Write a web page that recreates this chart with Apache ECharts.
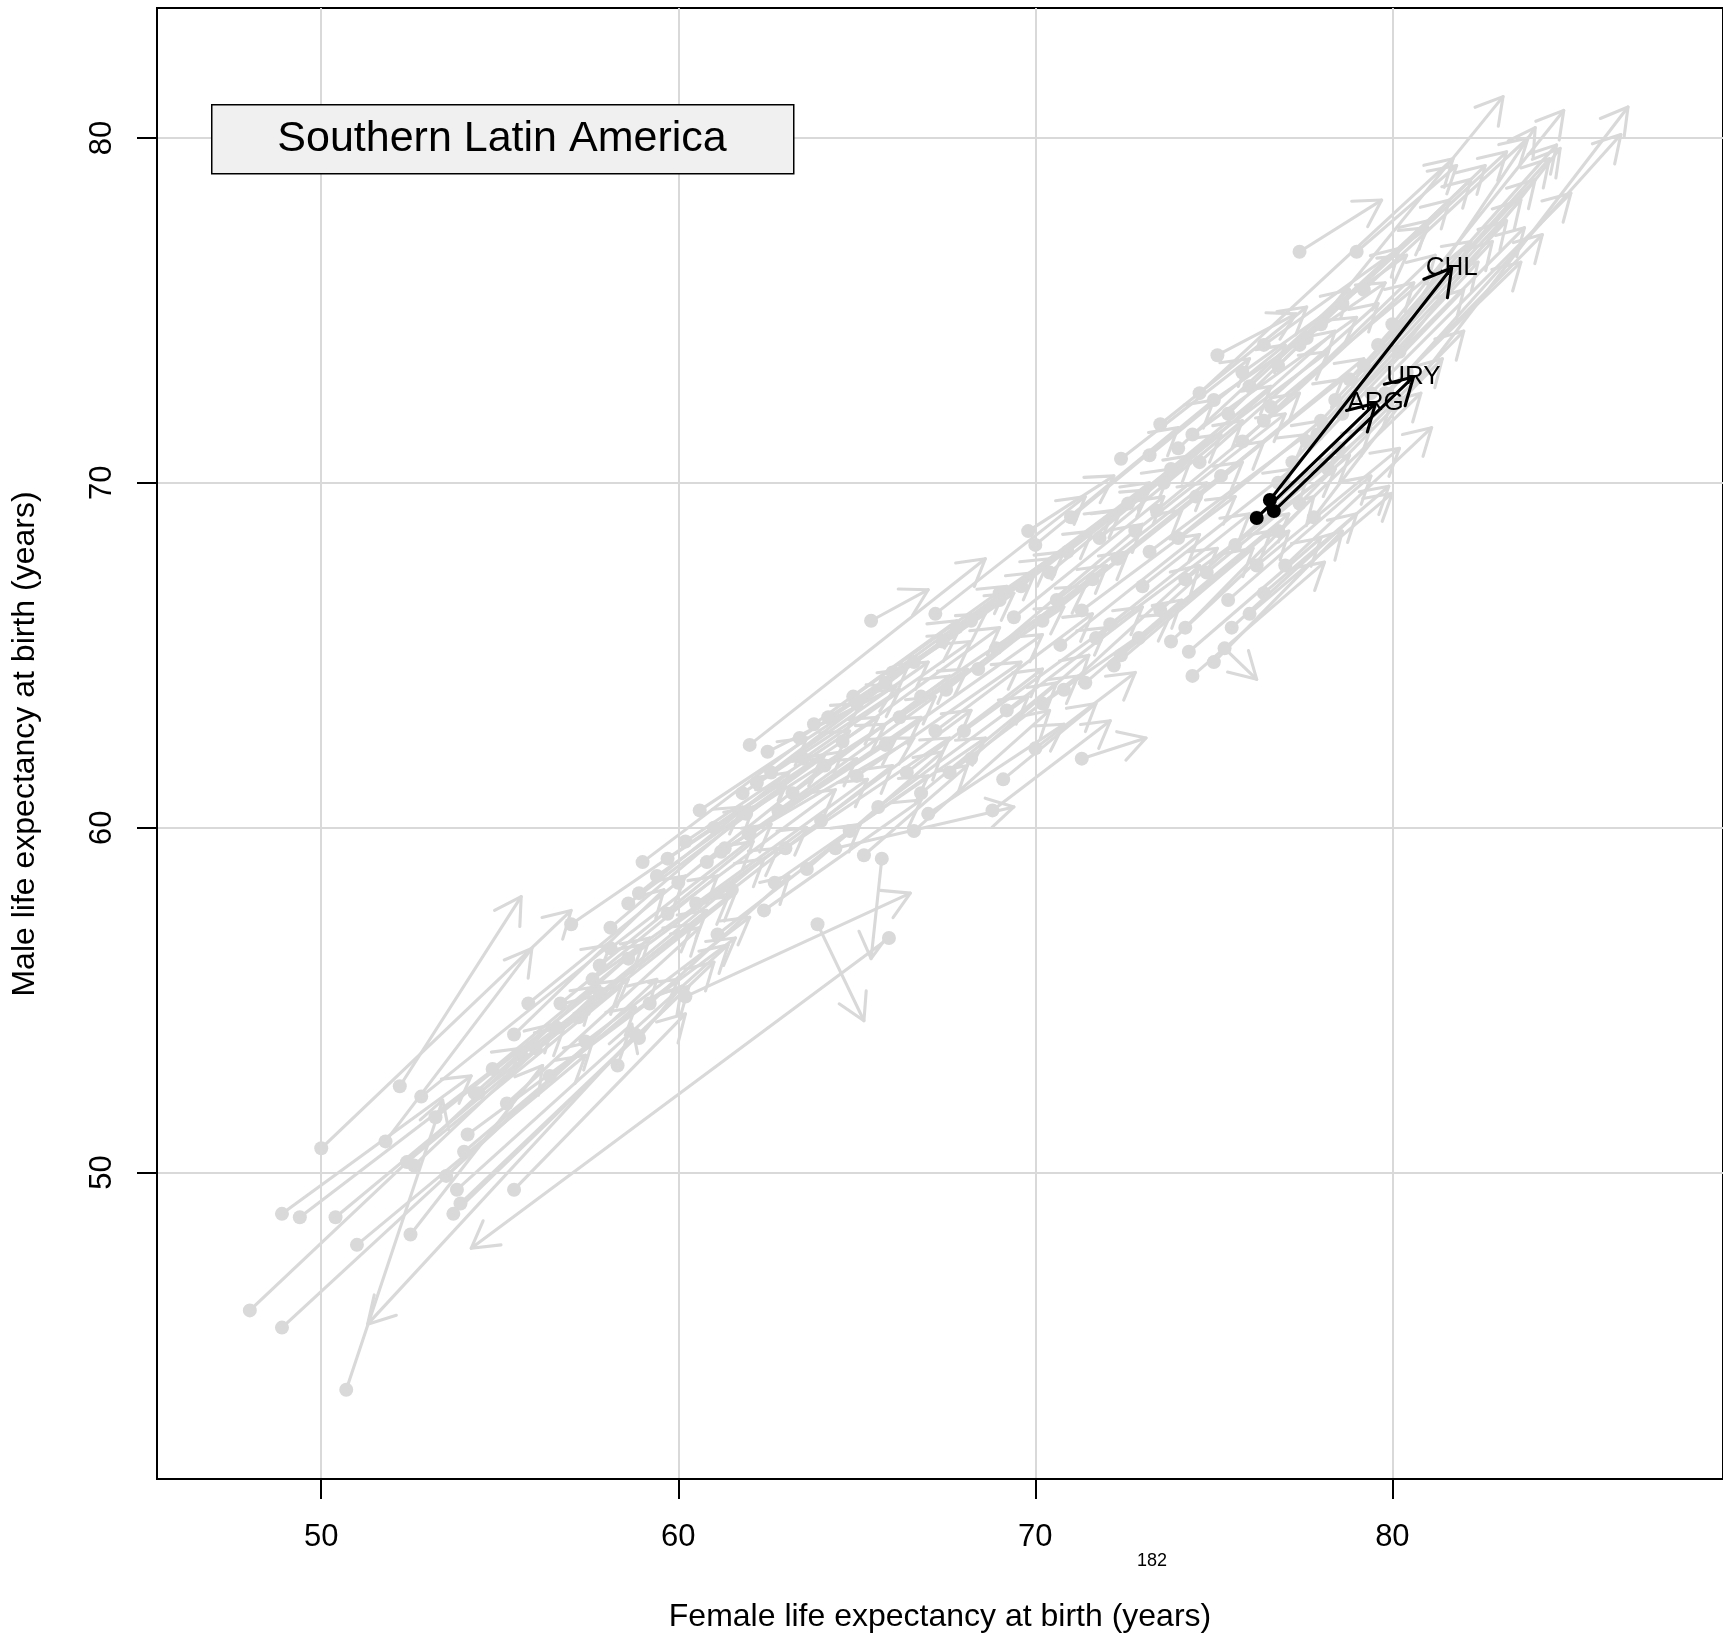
<!DOCTYPE html>
<html>
<head>
<meta charset="utf-8">
<script src="https://cdn.jsdelivr.net/npm/echarts@6/dist/echarts.min.js"></script>
<style>
html,body{margin:0;padding:0;background:#fff;}
#chart{width:1723px;height:1636px;}
</style>
</head>
<body>
<div id="chart"></div>
<script>
// ---- data (female, male life expectancy: start -> end) ----
const xTicks = [50, 60, 70, 80];
const yTicks = [50, 60, 70, 80];

const regionName = 'Southern Latin America';
const pageNumber = '182';
const xTitle = 'Female life expectancy at birth (years)';
const yTitle = 'Male life expectancy at birth (years)';

// gray arrows: [femaleFrom, maleFrom, femaleTo, maleTo]
const grayLowTail = [
  [48.0,46.0,56.5,54.3],[48.9,45.5,57.6,53.8],[50.7,43.7,53.4,52.1],[48.9,48.8,54.2,52.8],
  [49.4,48.7,55.6,53.6],[50.4,48.7,56.8,54.2],[50.0,50.7,57.0,57.6],[51.0,47.9,57.4,53.4],
  [52.5,48.2,56.2,53.1],[53.7,48.8,60.3,55.4],[53.9,49.1,61.0,56.1],[53.8,49.5,61.4,56.6],
  [53.5,49.9,59.4,55.6],[52.4,50.3,58.4,55.4],[52.6,50.2,57.6,55.1],[51.8,50.9,55.9,56.5],
  [52.8,52.2,58.1,56.6],[52.2,52.5,55.6,58.0],[54.3,52.3,59.2,56.8],[54.1,51.1,60.0,55.6],
  [55.2,52.0,60.6,57.1],[55.4,49.5,60.2,54.6],[55.4,54.0,59.6,58.2],[55.8,54.9,60.2,58.6],
  [58.3,53.1,58.7,54.3],[58.8,54.0,51.3,45.6],[65.9,56.8,54.2,47.8],
  [56.0,53.6,60.8,57.6],[56.6,54.2,61.4,58.0],[57.4,53.8,62.0,57.4],[54.8,53.0,59.0,56.6],
  [55.6,53.4,60.4,57.2],[53.2,51.6,57.8,55.4],[54.0,50.6,58.8,54.8],[56.4,52.8,61.6,56.8],
  [57.6,55.6,62.8,59.4],[58.6,56.2,63.6,60.0]
];
const grayMidLow = [
  [59.0,59.0,63.6,62.6],[60.6,60.5,65.1,63.6],[58.9,58.1,63.1,61.6],[59.7,57.5,64.4,61.1],
  [58.1,56.5,62.6,60.1],[57.8,56.0,62.1,59.6],[56.7,54.9,61.1,58.6],[57.8,55.2,62.4,59.1],
  [57.2,54.5,61.6,58.1],[59.2,54.9,63.1,58.6],[60.2,55.1,66.5,58.1],[58.9,53.9,60.1,55.4],
  [61.2,59.3,66.1,62.6],[61.1,56.9,65.1,60.1],[63.9,57.2,65.2,54.4],[54.4,52.3,58.6,55.6],
  [59.7,59.1,64.1,62.1],[58.1,57.1,62.1,60.6],[61.3,59.4,66.6,62.6],[62.5,62.2,66.1,64.1],
  [64.1,61.8,68.1,64.6],[64.8,59.9,68.6,62.6],[64.4,59.4,69.4,60.6],[66.6,59.9,70.4,63.4],
  [68.8,60.5,72.1,63.1],[69.1,61.4,71.7,63.6],[70.0,62.3,72.8,64.5],[68.2,62.0,71.5,65.0],
  [65.2,59.2,68.1,61.8],[65.7,59.1,65.4,56.2],[65.4,66.0,67.0,66.9],[71.3,62.0,73.1,62.6],
  [62.4,57.6,66.8,60.8],[63.0,59.4,67.6,62.6],[64.0,60.2,68.2,63.4],[65.6,60.6,69.8,63.8],
  [66.4,61.6,70.2,64.6],[67.0,60.4,70.8,63.0],[68.0,62.8,72.0,65.8],[69.2,63.4,73.0,66.4],
  [70.2,63.6,73.8,66.2]
];
const grayMid = [
  [60.0,58.4,64.6,62.2],[60.5,57.8,65.3,61.4],[61.5,58.2,66.0,61.8],[62.0,59.8,66.8,63.2],
  [62.8,60.5,67.2,63.8],[63.2,61.0,67.6,64.4],[62.2,61.3,66.4,64.6],[63.5,62.0,68.2,65.4],
  [64.6,62.5,69.0,65.8],[65.0,61.5,69.6,64.8],[65.8,62.4,70.2,65.6],[66.2,63.2,70.8,66.4],
  [66.8,63.8,71.4,67.0],[67.2,62.8,71.6,66.2],[67.5,64.0,72.0,67.6],[66.0,64.5,70.4,67.8],
  [64.9,63.8,69.2,67.0],[63.8,63.0,67.8,66.0],[61.9,60.4,65.8,63.0],[60.8,59.0,65.0,62.0],
  [62.7,58.4,67.0,61.5],[63.6,58.8,67.4,62.2],[66.8,61.0,70.6,64.2],[67.6,61.6,71.2,64.4],
  [57.0,57.2,61.8,60.6],[58.6,57.8,63.0,61.2],[59.4,58.6,64.0,62.0],[60.2,59.6,64.8,62.8],
  [61.0,60.0,65.6,63.2],[61.8,61.0,66.2,64.0],[62.6,61.6,67.0,64.8],[63.4,62.6,67.8,65.6],
  [64.2,63.2,68.6,66.2],[65.0,63.6,69.4,66.8],[65.8,64.2,70.0,67.4],[66.6,64.8,70.8,68.0],
  [67.4,65.4,71.6,68.6],[68.2,66.0,72.4,69.2],[69.0,66.8,73.2,69.8]
];
const grayUpperEdge = [
  [69.8,68.6,72.2,70.2],[72.4,70.7,76.0,73.6],[73.2,70.8,77.0,74.0],[73.5,71.7,77.6,75.1],
  [75.1,73.7,77.3,74.9],[77.4,76.7,79.7,78.2],[79.0,76.7,81.8,79.2],[77.6,74.2,83.1,81.2],
  [74.6,72.6,81.7,79.4],[62.0,62.4,68.6,67.8],[67.2,66.2,71.4,69.6]
];
const grayUpperBand = [
  [69.4,66.1,73.6,69.6],[70.2,66.0,74.1,69.2],[70.7,65.3,74.6,68.5],[71.3,66.3,75.6,69.6],
  [72.1,65.9,76.0,69.1],[71.7,65.5,75.1,68.1],[70.8,64.0,74.6,67.6],[71.4,64.2,74.1,66.6],
  [72.2,64.7,76.1,68.1],[72.4,65.0,76.6,68.6],[72.9,65.5,77.1,69.1],[73.5,66.3,77.6,70.1],
  [73.8,65.4,77.1,68.6],[74.3,65.1,78.0,68.4],[74.4,64.4,78.1,67.7],[75.0,64.8,78.6,68.6],
  [75.3,65.2,76.2,64.3],[75.5,65.8,79.0,69.1],[74.2,65.8,77.8,69.6],[76.0,66.2,80.0,69.7],
  [77.0,67.6,81.1,71.6],[76.4,66.8,79.9,69.9],
  [68.4,64.6,72.6,68.0],[68.9,65.2,73.0,68.8],[69.6,67.0,73.8,70.4],[70.4,67.4,74.4,70.8],
  [70.9,68.0,75.2,71.4],[71.6,67.2,75.8,70.6],[72.3,67.8,76.4,71.2],[72.8,68.6,77.0,72.0],
  [73.4,69.2,77.4,72.6],[74.0,68.4,78.0,71.8],[74.5,69.6,78.6,73.0],[75.2,70.2,79.2,73.6],
  [73.0,67.0,77.2,70.4],[74.8,67.4,78.8,70.8],[75.6,68.2,79.4,71.6],[76.2,69.0,80.0,72.4],
  [67.8,65.8,72.2,69.2],[69.0,66.6,73.2,70.0],[70.0,68.2,74.0,71.6],[71.0,69.0,75.0,72.4],
  [70.6,66.6,74.8,70.0],[71.8,68.4,75.8,71.8],[72.6,69.4,76.6,72.8],[73.8,70.4,78.2,73.8],
  [74.4,71.4,79.0,74.8],[75.0,72.4,79.8,75.8],[75.8,73.2,80.4,76.6],[76.4,74.0,81.0,77.4],
  [73.2,68.0,77.6,71.4],[74.2,67.2,78.4,70.4],[76.2,67.6,80.2,71.0],[75.4,66.6,79.4,70.2]
];
const grayTop = [
  [76.8,70.0,82.0,75.6],[77.2,70.6,82.4,76.4],[77.6,71.2,82.8,77.0],[78.0,71.8,83.2,77.6],
  [78.4,72.4,83.6,78.2],[78.8,73.0,84.0,78.8],[79.2,73.4,84.4,79.4],[79.6,74.0,84.6,79.8],
  [80.0,74.6,84.8,80.8],[78.6,72.0,84.0,80.3],[77.9,71.4,83.7,77.4],[79.4,72.6,85.0,78.4],
  [80.2,73.8,84.7,79.7],[77.8,69.0,86.6,80.9],[78.5,71.0,86.4,80.1],[76.4,71.8,81.2,76.6],
  [75.8,71.2,80.6,75.8],[75.4,72.0,80.2,76.8],[76.0,72.8,81.0,77.6],[76.8,73.4,81.6,78.2],
  [77.4,74.0,82.2,78.8],[78.0,74.6,82.6,79.2],[78.6,75.2,83.2,79.6],[79.2,75.6,83.8,80.0],
  [74.6,70.6,79.6,75.2],[74.0,71.0,78.8,75.6],[73.6,70.0,78.4,74.4],[76.6,72.2,82.2,77.0],
  [79.8,72.6,83.6,76.4],[80.4,73.2,84.2,77.2],[78.2,70.4,82.0,74.4],[77.4,69.4,81.4,73.6],
  [76.8,68.6,80.8,72.6]
];

// highlighted countries
const highlightCodes = ['CHL', 'URY', 'ARG'];
const highlightFrom = [[76.57,69.50],[76.68,69.18],[76.20,68.98]];
const highlightTo   = [[81.66,76.23],[80.59,73.07],[79.53,72.31]];

// ---- build ----
const grayData = [].concat(grayLowTail, grayMidLow, grayMid, grayUpperEdge, grayUpperBand, grayTop);
const blackData = highlightFrom.map((f, i) => [f[0], f[1], highlightTo[i][0], highlightTo[i][1]]);

const X_MIN = 45.40, X_MAX = 45.40 + 1568 / 35.75;
const Y_MIN = 41.11, Y_MAX = 83.77;
const FONT = 'Liberation Sans, Arial, Helvetica, sans-serif';

function arrowRenderer(color, withLabel) {
  return function (params, api) {
    const p0 = api.coord([api.value(0), api.value(1)]);
    const p1 = api.coord([api.value(2), api.value(3)]);
    const a = Math.atan2(p1[1] - p0[1], p1[0] - p0[0]);
    const L = 30, th = Math.PI / 6;
    const b1 = [p1[0] - L * Math.cos(a - th), p1[1] - L * Math.sin(a - th)];
    const b2 = [p1[0] - L * Math.cos(a + th), p1[1] - L * Math.sin(a + th)];
    const st = { stroke: color, lineWidth: 3.1, fill: null, lineCap: 'round', lineJoin: 'round' };
    const children = [
      { type: 'polyline', shape: { points: [p0, p1] }, style: st },
      { type: 'polyline', shape: { points: [b1, p1, b2] }, style: st },
      { type: 'circle', shape: { cx: p0[0], cy: p0[1], r: 7 }, style: { fill: color, stroke: null } }
    ];
    if (withLabel) {
      children.push({
        type: 'text',
        style: {
          text: highlightCodes[params.dataIndex], x: p1[0], y: p1[1],
          fill: '#000', font: '26px ' + FONT, align: 'center', verticalAlign: 'middle'
        },
        z2: 10
      });
    }
    return { type: 'group', children: children };
  };
}

const chart = echarts.init(document.getElementById('chart'), null, { renderer: 'canvas' });
chart.setOption({
  animation: false,
  backgroundColor: '#ffffff',
  grid: { left: 157, top: 8, width: 1568, height: 1471, show: true, borderColor: '#000', borderWidth: 2, backgroundColor: 'transparent' },
  xAxis: {
    type: 'value', min: X_MIN, max: X_MAX,
    axisLine: { show: true, onZero: false, lineStyle: { color: '#000', width: 2 } },
    axisTick: { show: true, inside: false, length: 20, customValues: xTicks, lineStyle: { color: '#000', width: 2 } },
    axisLabel: { show: true, customValues: xTicks, margin: 43, fontSize: 31, fontFamily: FONT, color: '#000', lineHeight: 31 },
    splitLine: { show: true, lineStyle: { color: '#d9d9d9', width: 2 } }
  },
  yAxis: {
    type: 'value', min: Y_MIN, max: Y_MAX,
    axisLine: { show: true, onZero: false, lineStyle: { color: '#000', width: 2 } },
    axisTick: { show: true, inside: false, length: 20, customValues: yTicks, lineStyle: { color: '#000', width: 2 } },
    axisLabel: { show: true, customValues: yTicks, rotate: 90, margin: 39, fontSize: 31, fontFamily: FONT, color: '#000', lineHeight: 31 },
    splitLine: { show: true, lineStyle: { color: '#d9d9d9', width: 2 } }
  },
  series: [
    { type: 'custom', renderItem: arrowRenderer('#d9d9d9', false), data: grayData, encode: { x: [0, 2], y: [1, 3] }, z: 2, silent: true },
    { type: 'custom', renderItem: arrowRenderer('#000000', true), data: blackData, encode: { x: [0, 2], y: [1, 3] }, z: 3, silent: true }
  ],
  graphic: [
    { type: 'rect', left: 211, top: 104, shape: { width: 582, height: 69 }, style: { fill: '#f0f0f0', stroke: '#000', lineWidth: 1.5 }, z: 100 },
    { type: 'text', x: 502, y: 139, style: { text: regionName, font: '43px ' + FONT, fill: '#000', align: 'center', verticalAlign: 'middle' }, z: 101 },
    { type: 'text', x: 940, y: 1617, style: { text: xTitle, font: '32px ' + FONT, fill: '#000', align: 'center', verticalAlign: 'middle' }, z: 101 },
    { type: 'text', x: 25, y: 744, rotation: Math.PI / 2, style: { text: yTitle, font: '32px ' + FONT, fill: '#000', align: 'center', verticalAlign: 'middle' }, z: 101 },
    { type: 'text', x: 1152, y: 1561, style: { text: pageNumber, font: '18px ' + FONT, fill: '#000', align: 'center', verticalAlign: 'middle' }, z: 101 }
  ]
});
</script>
</body>
</html>
